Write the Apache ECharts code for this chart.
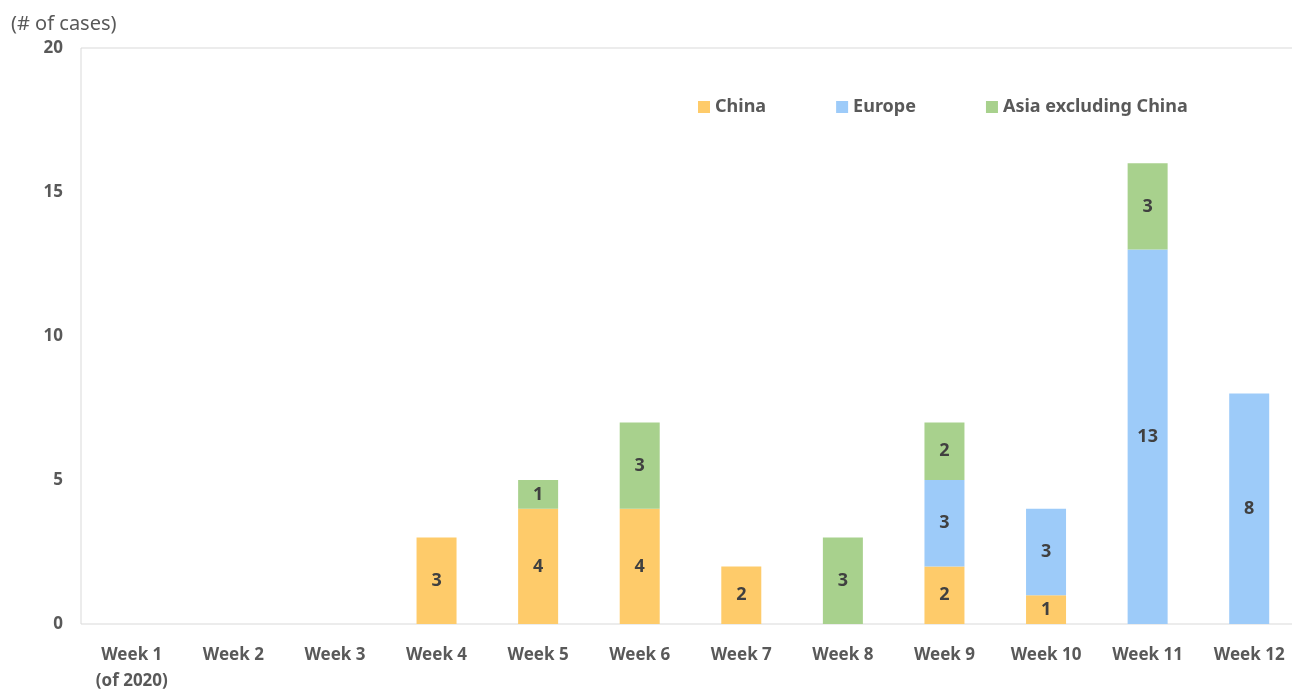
<!DOCTYPE html>
<html><head><meta charset="utf-8">
<script src="https://cdn.jsdelivr.net/npm/echarts@6/dist/echarts.min.js"></script>
<style>html,body{margin:0;padding:0;background:#fff;overflow:hidden}#c{width:1292px;height:690px;overflow:hidden}</style>
</head><body><div id="c"></div>
<script>
const categories = ['Week 1\n(of 2020)','Week 2','Week 3','Week 4','Week 5','Week 6','Week 7','Week 8','Week 9','Week 10','Week 11','Week 12'];
const china  = [0,0,0,3,4,4,2,0,2,1,0,0];
const europe = [0,0,0,0,0,0,0,0,3,3,13,8];
const asia   = [0,0,0,0,1,3,0,3,2,0,3,0];
const yTicks = [0,5,10,15,20];

const font = 'Noto Sans';
const nz = a => a.map(v => v === 0 ? null : v);
function ser(name, data, color){
  return {name, type:'bar', stack:'s', data:nz(data), barWidth:40,
    itemStyle:{color},
    label:{show:true, position:'inside', color:'#404040', fontWeight:'bold', fontSize:18, fontFamily:font}};
}
const chart = echarts.init(document.getElementById('c'));
chart.setOption({
  animation:false,
  title:{text:'(# of cases)', left:6, top:9, textStyle:{fontFamily:font, fontSize:20, fontWeight:'normal', color:'#595959'}},
  legend:{left:693, top:93, itemWidth:12, itemHeight:12, itemGap:70, icon:'rect',
    textStyle:{fontFamily:font, fontSize:18, fontWeight:'bold', color:'#595959'},
    data:['China','Europe','Asia excluding China']},
  grid:{left:81, right:-8, top:48, bottom:66, show:true, borderColor:'#d9d9d9', borderWidth:1, outerBoundsMode:'none', containLabel:false},
  xAxis:{type:'category', data:categories,
    axisLine:{show:false}, axisTick:{show:false},
    axisLabel:{fontFamily:font, fontSize:17, fontWeight:'bold', color:'#595959', margin:18, lineHeight:26, interval:0}},
  yAxis:{type:'value', min:yTicks[0], max:yTicks[yTicks.length-1], interval:5,
    splitLine:{show:false}, axisLine:{show:false}, axisTick:{show:false},
    axisLabel:{fontFamily:font, fontSize:17, fontWeight:'bold', color:'#595959', margin:18}},
  series:[ser('China',china,'#FECB6A'), ser('Europe',europe,'#9DCBF9'), ser('Asia excluding China',asia,'#A8D18D')]
});
</script></body></html>
